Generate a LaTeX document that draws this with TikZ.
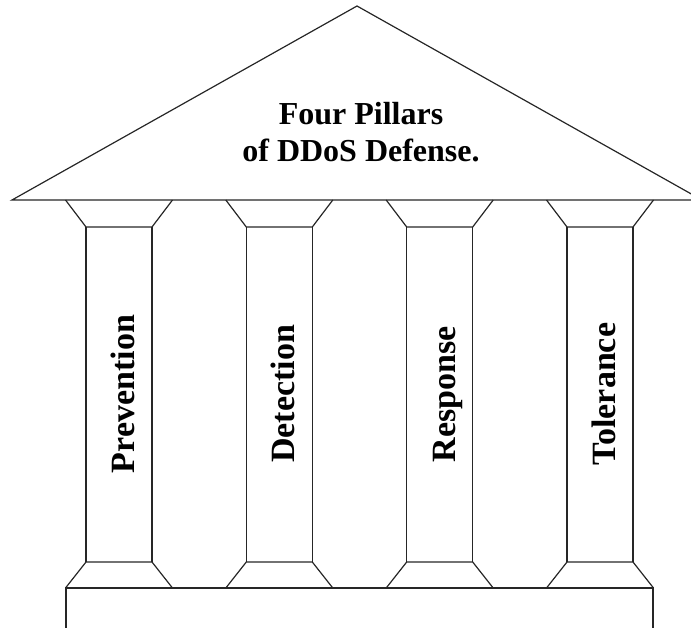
\documentclass[tikz,border=0pt]{standalone}
\usepackage{fontspec}
\setmainfont{Liberation Serif}
\begin{document}
\begin{tikzpicture}[x=1pt,y=-1pt,line width=1.2pt,
  edge/.style={draw=black!85},
  titletext/.style={font=\fontsize{32}{38}\selectfont\bfseries,anchor=base,inner sep=0pt},
  pillarlabel/.style={font=\fontsize{34}{40}\selectfont\bfseries,rotate=90,anchor=base,inner sep=0pt}]
\useasboundingbox (0,0) rectangle (691,627);
\begin{scope}
  \clip (0,0) rectangle (691,627);
  % roof
  \draw[edge] (12,200) -- (357,6) -- (702,200) -- cycle;
  % plinth
  \draw[edge] (66,650) -- (66,588) -- (653,588) -- (653,650);
  % four columns: capital, shaft, foot
  \foreach \cx in {119,279.3,439.7,600} {
    \draw[edge] (\cx-53.5,200) -- (\cx-33,227) -- (\cx+33,227) -- (\cx+53.5,200);
    \draw[edge] (\cx-33,227) -- (\cx-33,562);
    \draw[edge] (\cx+33,227) -- (\cx+33,562);
    \draw[edge] (\cx-53.5,588) -- (\cx-33,562) -- (\cx+33,562) -- (\cx+53.5,588);
  }
\end{scope}
% title in the pediment
\node[titletext] (title1) at (361,124) {Four Pillars};
\node[titletext] (title2) at (361,161) {of DDoS Defense.};
% column labels
\foreach \cx/\nm/\txt in {119/prevention/Prevention,279.3/detection/Detection,439.7/response/Response,600/tolerance/Tolerance}
  \node[pillarlabel] (\nm) at (\cx+15.5,394) {\txt};
\end{tikzpicture}
\end{document}
